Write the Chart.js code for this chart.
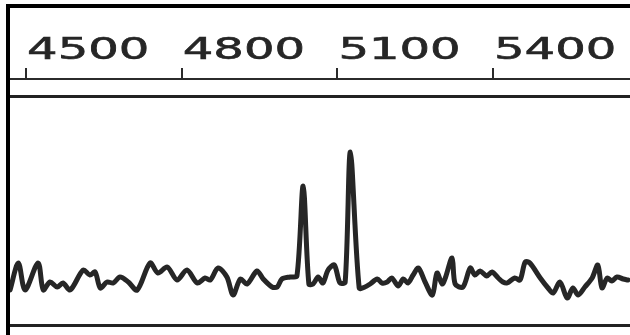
<!DOCTYPE html>
<html>
<head>
<meta charset="utf-8">
<script src="https://cdn.jsdelivr.net/npm/chart.js@4.4.1/dist/chart.umd.min.js"></script>
<style>
  html, body { margin: 0; padding: 0; background: #fff; }
  #wrap { position: relative; width: 630px; height: 335px; overflow: hidden; }
  #frame {
    position: absolute; left: 6px; top: 4px; right: -10px; bottom: -10px;
    border-left: 4px solid #000; border-top: 4px solid #000;
    pointer-events: none;
  }
</style>
</head>
<body>
<div id="wrap">
  <canvas id="traceChart" width="630" height="335"></canvas>
  <div id="frame"></div>
</div>
<script>
// Position sur l'axe (échelle du haut)
const positions = [
  4469, 4485, 4498, 4523, 4533, 4546, 4560, 4571, 4585, 4610,
  4623, 4633, 4643, 4656, 4668, 4681, 4697, 4714, 4739, 4754,
  4772, 4791, 4810, 4830, 4845, 4855, 4870, 4887, 4899, 4913,
  4926, 4945, 4957, 4974, 4984, 4993, 5009, 5022, 5034, 5045,
  5053, 5063, 5072, 5082, 5094, 5105, 5115, 5125, 5142, 5153,
  5163, 5177, 5186, 5196, 5205, 5217, 5227, 5236, 5246, 5256,
  5269, 5283, 5292, 5302, 5308, 5321, 5327, 5342, 5356, 5365,
  5375, 5388, 5398, 5410, 5419, 5427, 5442, 5452, 5462, 5471,
  5491, 5506, 5516, 5529, 5543, 5554, 5564, 5577, 5591, 5602,
  5610, 5620, 5629, 5639, 5651, 5660
];

// Intensité du signal (unités arbitraires)
const intensity = [
  35, 62, 35, 62, 35, 43, 38, 42, 35, 55,
  50, 53, 37, 43, 42, 48, 43, 35, 62, 52,
  58, 45, 55, 42, 47, 45, 57, 48, 30, 46,
  41, 54, 46, 38, 38, 46, 48, 49, 139, 41,
  41, 48, 42, 55, 60, 42, 43, 173, 37, 38,
  41, 46, 42, 43, 47, 39, 46, 42, 50, 57,
  43, 30, 52, 41, 47, 67, 41, 38, 57, 50,
  54, 49, 53, 47, 43, 42, 47, 45, 63, 62,
  47, 37, 32, 43, 27, 37, 30, 38, 47, 60,
  37, 47, 44, 48, 46, 45
];

// Graduations de l'axe
const tickValues = [4500, 4800, 5100, 5400];

// Lignes horizontales (bas et sous l'axe)
const refLines = [0, 228];

// Étiquettes dessinées élargies, comme sur le scan
const wideLabels = {
  id: 'wideLabels',
  afterDraw(chart) {
    const ctx = chart.ctx;
    const xs = chart.scales.x;
    ctx.save();
    ctx.fillStyle = '#262626';
    ctx.strokeStyle = '#262626';
    ctx.lineWidth = 0.6;
    ctx.font = '31px "DejaVu Sans"';
    ctx.textBaseline = 'alphabetic';
    ctx.textAlign = 'left';
    tickValues.forEach(v => {
      const px = xs.getPixelForValue(v);
      ctx.save();
      ctx.translate(px + 1, 59);
      ctx.scale(1.55, 1);
      ctx.fillText(String(v), 0, 0);
      ctx.strokeText(String(v), 0, 0);
      ctx.restore();
    });
    ctx.restore();
  }
};

const ctx = document.getElementById('traceChart').getContext('2d');
new Chart(ctx, {
  type: 'line',
  data: {
    datasets: [{
      data: positions.map((p, i) => ({ x: p, y: intensity[i] })),
      borderColor: '#262626',
      borderWidth: 5,
      pointRadius: 0,
      tension: 0.3,
      borderJoinStyle: 'round',
      borderCapStyle: 'round',
      fill: false
    }]
  },
  options: {
    responsive: false,
    animation: false,
    layout: { padding: { left: 9, right: 0, top: 0, bottom: 10 } },
    plugins: {
      legend: { display: false },
      tooltip: { enabled: false }
    },
    scales: {
      x: {
        type: 'linear',
        position: 'top',
        min: 4467,
        max: 5664,
        afterBuildTicks: s => { s.ticks = tickValues.map(v => ({ value: v })); },
        afterFit: s => { s.height = 79; },
        ticks: { display: false },
        grid: {
          drawOnChartArea: false,
          drawTicks: true,
          tickLength: 11,
          lineWidth: 2,
          color: '#2b2b2b'
        },
        border: { display: true, color: '#2b2b2b', width: 2 }
      },
      y: {
        min: 0,
        max: 246,
        afterBuildTicks: s => { s.ticks = refLines.map(v => ({ value: v })); },
        afterFit: s => { s.width = 0; },
        ticks: { display: false },
        grid: { drawTicks: false, lineWidth: 3, color: '#222' },
        border: { display: false }
      }
    }
  },
  plugins: [wideLabels]
});
</script>
</body>
</html>
